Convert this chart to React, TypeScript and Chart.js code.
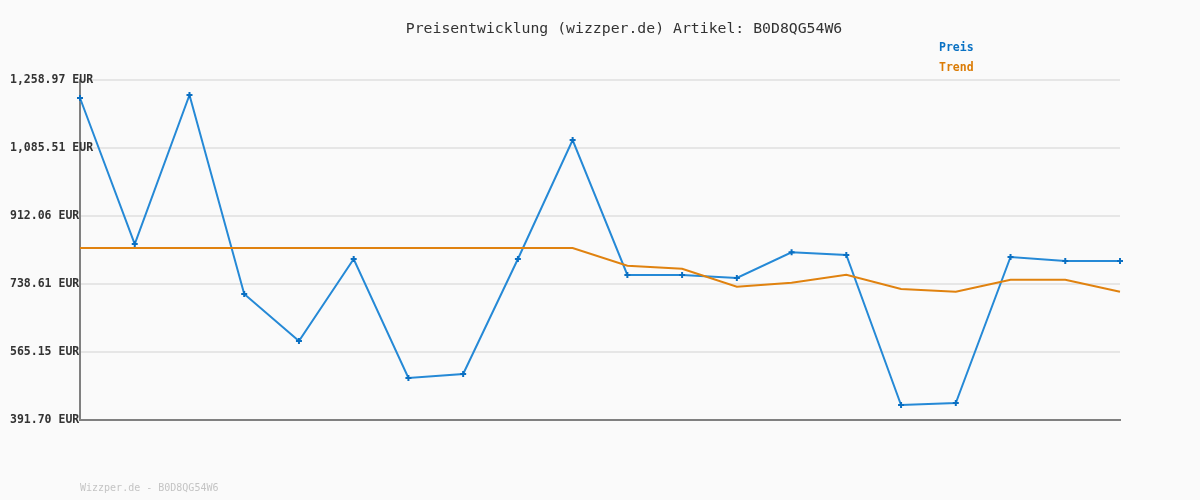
import React, { useEffect, useRef } from "react";
import { Chart, registerables } from "chart.js";

Chart.register(...registerables);

const categories: string[] = Array.from({ length: 20 }, (_, i) => String(i + 1));

const preisValues: number[] = [
  1213.1, 840.6, 1220.7, 713.1, 593.2, 802.4, 498.9, 509.0, 802.4, 1105.9,
  761.6, 761.6, 753.9, 819.5, 812.6, 429.9, 435.1, 807.5, 797.3, 797.3,
];

const trendValues: number[] = [
  830.4, 830.4, 830.4, 830.4, 830.4, 830.4, 830.4, 830.4, 830.4, 830.4,
  785.3, 777.6, 731.7, 742.0, 762.4, 725.9, 719.0, 749.6, 749.6, 719.0,
];

const tickValues: number[] = [391.7, 565.15, 738.61, 912.06, 1085.51, 1258.97];
const tickLabels: string[] = [
  "391.70 EUR",
  "565.15 EUR",
  "738.61 EUR",
  "912.06 EUR",
  "1,085.51 EUR",
  "1,258.97 EUR",
];

const titleText = "Preisentwicklung (wizzper.de) Artikel: B0D8QG54W6";
const footerText = "Wizzper.de - B0D8QG54W6";
const legendItems: { label: string; color: string }[] = [
  { label: "Preis", color: "#0a72c4" },
  { label: "Trend", color: "#db7c06" },
];

const MONO = '"DejaVu Sans Mono", "Liberation Mono", monospace';

const textPlugin = {
  id: "textPlugin",
  beforeDraw(chart: any) {
    const ctx = chart.ctx;
    ctx.save();
    ctx.fillStyle = "#fafafa";
    ctx.fillRect(0, 0, chart.width, chart.height);
    ctx.restore();
  },
  afterDraw(chart: any) {
    const ctx = chart.ctx;
    ctx.save();
    ctx.textBaseline = "middle";
    ctx.font = `14.8px ${MONO}`;
    ctx.fillStyle = "#333333";
    ctx.textAlign = "center";
    ctx.fillText(titleText, 624, 29);

    ctx.textAlign = "left";
    ctx.font = `bold 11.5px ${MONO}`;
    legendItems.forEach((it, i) => {
      ctx.fillStyle = it.color;
      ctx.fillText(it.label, 939, 48 + i * 20);
    });

    ctx.font = `10px ${MONO}`;
    ctx.fillStyle = "#c4c4c4";
    ctx.fillText(footerText, 80, 488);
    ctx.restore();
  },
};

export default function App() {
  const canvasRef = useRef<HTMLCanvasElement | null>(null);

  useEffect(() => {
    if (!canvasRef.current) return;
    const chart = new Chart(canvasRef.current, {
      type: "line",
      data: {
        labels: categories,
        datasets: [
          {
            label: "Trend",
            data: trendValues,
            borderColor: "#e0820f",
            borderWidth: 2,
            pointRadius: 0,
            tension: 0,
            clip: false,
          },
          {
            label: "Preis",
            data: preisValues,
            borderColor: "#2589d6",
            borderWidth: 2,
            pointStyle: "cross",
            pointRadius: 3,
            pointBorderWidth: 2,
            pointBorderColor: "#0a6fc2",
            pointBackgroundColor: "#0a6fc2",
            tension: 0,
            clip: false,
          },
        ],
      },
      options: {
        animation: false,
        responsive: false,
        maintainAspectRatio: false,
        layout: { padding: { left: 10, right: 80, top: 80, bottom: 80 } },
        plugins: {
          legend: { display: false },
          title: { display: false },
          tooltip: { enabled: false },
        },
        scales: {
          x: {
            type: "category",
            offset: false,
            ticks: { display: false },
            grid: { display: false, drawTicks: false },
            border: { display: true, color: "#808080", width: 2 },
            afterFit: (s: any) => {
              s.height = 0;
            },
          },
          y: {
            min: tickValues[0],
            max: tickValues[tickValues.length - 1],
            afterBuildTicks: (s: any) => {
              s.ticks = tickValues.map((v) => ({ value: v }));
            },
            afterFit: (s: any) => {
              s.width = 70;
            },
            ticks: {
              mirror: true,
              padding: -70,
              crossAlign: "near",
              color: "#333333",
              font: { family: MONO, size: 11.5, weight: "bold" },
              callback: (_v: any, i: number) => tickLabels[i],
            },
            grid: { color: "#e6e6e6", lineWidth: 2, drawTicks: false },
            border: { display: true, color: "#808080", width: 2 },
          },
        },
      },
      plugins: [textPlugin],
    });
    return () => chart.destroy();
  }, []);

  return (
    <div style={{ position: "fixed", left: 0, top: 0, width: 1200, height: 500, background: "#fafafa" }}>
      <canvas ref={canvasRef} width={1200} height={500} style={{ display: "block", width: 1200, height: 500 }} />
    </div>
  );
}
